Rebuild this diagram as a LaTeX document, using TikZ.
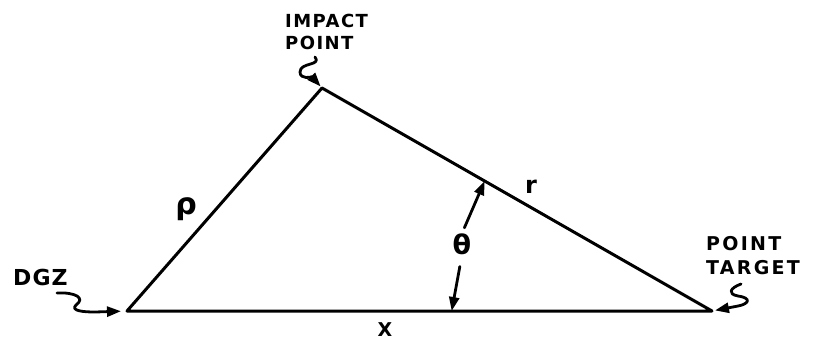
\documentclass[tikz,border=0pt]{standalone}
\usepackage{fontspec}
\setmainfont{DejaVu Sans}
\usetikzlibrary{arrows.meta,calc}

\tikzset{
  edge/.style={line width=3pt, line join=round, line cap=round},
  pointer/.style={line width=2.8pt, line cap=round, line join=round,
    -{Triangle[length=14pt,width=10pt]}},
  lbl/.style={font=\bfseries\fontsize{18}{22}\selectfont\addfontfeature{LetterSpace=8},
    inner sep=0pt, align=left},
  sym/.style={inner sep=0pt}
}

\begin{document}
\begin{tikzpicture}[x=1pt,y=-1pt]
\useasboundingbox (0,0) rectangle (816,341);
% triangle corners
\coordinate (dgz) at (127,311);
\coordinate (impact) at (322,88);
\coordinate (target) at (712,311);
\draw[edge] (dgz) -- (impact) -- (target) -- cycle;

% corner labels
\node[lbl,anchor=west] (implbl) at (285,32) {IMPACT\\POINT};
\node[lbl,anchor=west,font=\bfseries\fontsize{22}{24}\selectfont\addfontfeature{LetterSpace=5}]
  (dgzlbl) at (13,277) {DGZ};
\node[lbl,anchor=west,font=\bfseries\fontsize{19}{24}\selectfont\addfontfeature{LetterSpace=12}]
  (tgtlbl) at (706,256) {POINT\\TARGET};

% wiggly pointers
\coordinate (imptail) at (315,57);
\coordinate (dgztail) at (57,293);
\coordinate (tgttail) at (741,284);
\draw[pointer, shorten >=2pt] (imptail) .. controls (322,66) and (300,62) ..
  (300,72) .. controls (300,80) and (312,77) .. (impact);
\draw[pointer, shorten >=6pt] (dgztail) .. controls (75,292) and (86,298) ..
  (76,305) .. controls (70,311) and (84,312) .. (95,312) -- (dgz);
\draw[pointer, shorten >=3pt] (tgttail) .. controls (730,288) and (727,294) ..
  (738,296) .. controls (752,298) and (749,304) .. (738,306) -- (target);

% side labels
\node[sym,font=\bfseries\fontsize{30}{32}\selectfont] (rho) at (186,209) {ρ};
\node[sym,font=\bfseries\fontsize{24}{26}\selectfont] (rlbl) at (531,187) {r};
\node[sym,font=\bfseries\fontsize{19}{21}\selectfont] (xlbl) at (385,330) {X};

% angle
\node[sym,font=\bfseries\fontsize{27}{29}\selectfont] (theta) at (462,244) {θ};
\coordinate (rfoot) at ($(impact)!0.417!(target)$);
\coordinate (xfoot) at ($(dgz)!0.555!(target)$);
\draw[pointer, shorten <=6pt] (theta.north) -- (rfoot);
\draw[pointer, shorten <=12pt] (theta.south) -- (xfoot);
\end{tikzpicture}
\end{document}
